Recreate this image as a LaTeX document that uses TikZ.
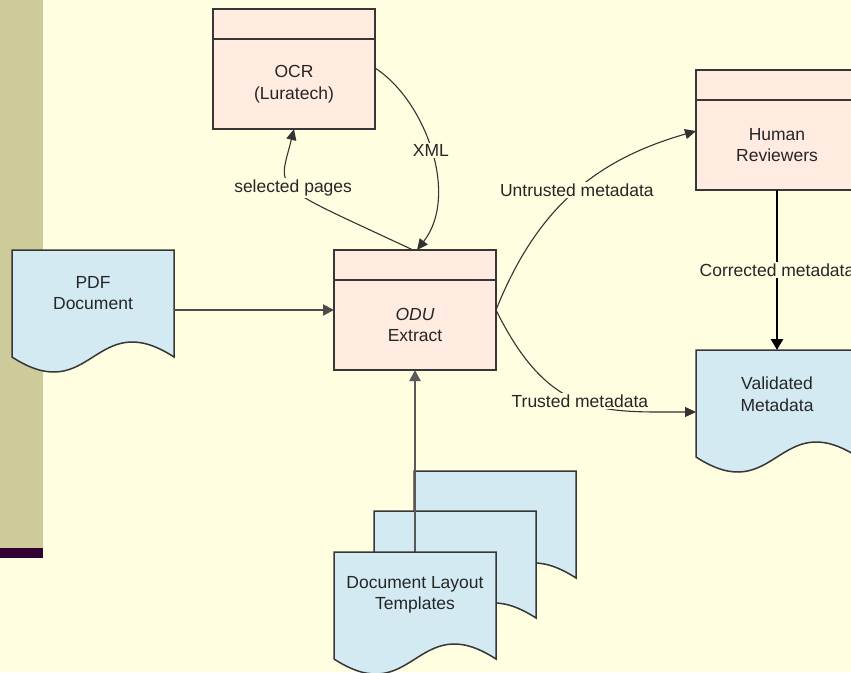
\documentclass[tikz,border=0pt]{standalone}
\usepackage{fontspec}
\setmainfont{Liberation Sans}
\usepackage{tikz}
\usetikzlibrary{arrows.meta, positioning, calc}

\definecolor{paper}{RGB}{255,254,224}
\definecolor{strip}{RGB}{204,203,153}
\definecolor{stripend}{RGB}{51,0,51}
\definecolor{procfill}{RGB}{255,235,224}
\definecolor{docfill}{RGB}{211,234,242}
\definecolor{edge}{RGB}{55,55,55}

% page shape with a wavy lower edge, drawn round an empty node
\newcommand{\wavedoc}[1]{%
  \filldraw[docline] (#1.north west) -- (#1.north east) -- ([yshift=13pt]#1.south east)
    .. controls +(-80,-52) and +(80,52) .. ([yshift=13pt]#1.south west) -- cycle;}

\begin{document}
\begin{tikzpicture}[x=1pt, y=-1pt, font=\fontsize{17.5}{21.5}\selectfont,
    procbox/.style={draw=edge, fill=procfill, line width=1.5pt, minimum width=162pt,
                    minimum height=90pt, inner sep=0pt, outer sep=0pt, align=center,
                    text=black!85},
    prochead/.style={draw=edge, fill=procfill, line width=1.5pt, minimum width=162pt,
                     minimum height=30pt, inner sep=0pt, outer sep=0pt},
    docbox/.style={minimum width=162pt, minimum height=120pt, inner sep=0pt, outer sep=0pt},
    docline/.style={fill=docfill, draw=edge, line width=1.5pt},
    doctext/.style={align=center, text=black!85},
    lbl/.style={fill=paper, inner sep=1.5pt, text=black!85},
    flow/.style={draw=black!80, line width=1.1pt, -{Triangle[length=11pt,width=10pt]}},
    feed/.style={draw=black!70, line width=2.2pt, -{Triangle[length=11pt,width=11pt]}},
    hardflow/.style={draw=black, line width=2.8pt, -{Triangle[length=11pt,width=12pt]}}]
    \useasboundingbox (0,0) rectangle (851,672);
    \clip (0,0) rectangle (851,672);
    \fill[paper] (0,0) rectangle (851,672);
    \fill[strip] (0,0) rectangle (43,548);
    \fill[stripend] (0,548) rectangle (43,558);

    % processes
    \node[procbox, label={[prochead, name=ocr-head]above:}] (ocr) at (294,84) {OCR\\(Luratech)};
    \node[procbox, label={[prochead, name=odu-head]above:}] (odu) at (415,325) {\textit{ODU}\\Extract};
    \node[procbox, label={[prochead, name=hr-head]above:}] (hr) at (777,145) {Human\\Reviewers};

    % documents
    \node[docbox] (pdf) at (93,310) {};
    \wavedoc{pdf}
    \node[doctext] (pdf-text) at ($(pdf.center)+(0,-17)$) {PDF\\Document};

    \node[docbox] (vm) at (777,410) {};
    \wavedoc{vm}
    \node[doctext] (vm-text) at ($(vm.center)+(0,-16)$) {Validated\\Metadata};

    \node[docbox] (tpl3) at (495,531) {};
    \node[docbox] (tpl2) at (455,571) {};
    \node[docbox] (tpl1) at (415,612) {};
    \wavedoc{tpl3}
    \wavedoc{tpl2}
    \draw[feed, draw=black!65, line width=2pt] (tpl1.north) -- (odu.south);
    \wavedoc{tpl1}
    \node[doctext] (tpl-text) at ($(tpl1.center)+(0,-17)$) {Document Layout\\Templates};

    % connectors
    \draw[feed] (pdf.east) -- (pdf.east -| odu.west);
    \draw[flow] ([xshift=-2pt]odu-head.north) .. controls (268,182) and (278,193)
        .. node[lbl] (sel) {selected pages} (ocr.south);
    \draw[flow] ([yshift=16pt]ocr.east) .. controls (425,100) and (460,195)
        .. node[lbl] (xml) {XML} ([xshift=2pt]odu-head.north);
    \draw[flow] ([yshift=15pt]odu.east) .. controls (539,202) and (602,158)
        .. node[lbl] (untrusted) {Untrusted metadata} ([yshift=14pt]hr.west);
    \draw[flow] ([yshift=15pt]odu.east) .. controls (549,417) and (600,412)
        .. node[lbl] (trusted) {Trusted metadata} ([yshift=-2pt]vm.west);
    \draw[hardflow] (hr.south) -- node[lbl] (corrected) {Corrected metadata} (vm.north);
\end{tikzpicture}
\end{document}
